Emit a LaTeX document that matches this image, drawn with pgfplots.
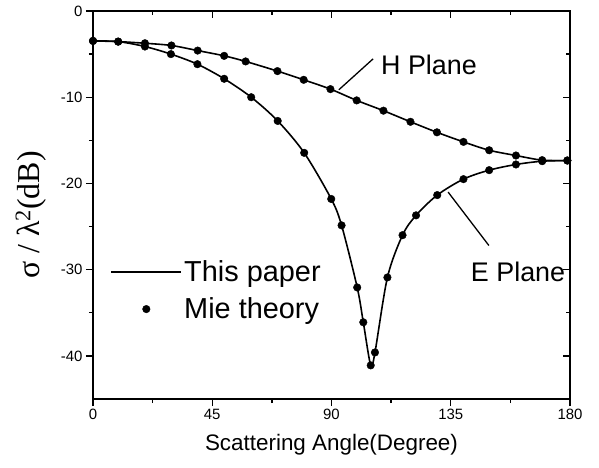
\documentclass[border=0pt]{standalone}
\usepackage{pgfplots}
\pgfplotsset{compat=1.18}
\usepackage{fontspec}
\setmainfont{Liberation Sans}
\newfontfamily\seriffont{Liberation Serif}
\pgfplotstableread{
x y
0 -3.47
9.5 -3.55
19.6 -4.12
29.4 -5.0
39.4 -6.17
49.5 -7.86
59.7 -10.0
69.7 -12.75
79.7 -16.45
89.9 -21.8
93.8 -24.86
99.7 -32.06
102.0 -36.1
104.8 -41.1
106.4 -39.6
111.1 -30.9
116.8 -26.0
121.9 -23.7
129.9 -21.35
139.8 -19.5
149.5 -18.46
159.6 -17.8
169.5 -17.42
179 -17.34
}\Eplane
\pgfplotstableread{
x y
0 -3.47
9.5 -3.55
19.6 -3.74
29.6 -4.0
39.5 -4.59
49.5 -5.2
57.6 -5.85
69.6 -6.97
79.5 -7.98
89.6 -9.06
99.5 -10.37
109.6 -11.56
119.8 -12.85
129.8 -14.07
139.8 -15.18
149.5 -16.15
159.6 -16.76
169.5 -17.3
179 -17.34
}\Hplane
\begin{document}
\begin{tikzpicture}
\begin{axis}[name=ax, scale only axis, width=477bp, height=388bp,
  xmin=0, xmax=180, ymin=-45, ymax=0,
  xtick={0,45,90,135,180}, ytick={-40,-30,-20,-10,0},
  minor x tick num=1, minor y tick num=1,
  xtick pos=left, ytick pos=left, tick align=outside,
  major tick length=7bp, minor tick length=4bp,
  axis line style={line width=1.8bp},
  every tick/.style={black, line width=1.3bp},
  tick label style={font=\fontsize{15}{15}\selectfont},
  /pgf/number format/assume math mode=true,
  xlabel={Scattering Angle(Degree)},
  xlabel style={font=\fontsize{22.5}{22.5}\selectfont, at={(axis description cs:0.5,-0.118)}, anchor=center},
  ylabel={\seriffont σ / λ\textsuperscript{2}(dB)},
  ylabel style={font=\fontsize{32}{32}\selectfont, at={(axis description cs:-0.1300,0.474)}, anchor=center},
  clip=false,
  legend style={draw=none, fill=none, at={(axis cs:6.5,-32.4)}, anchor=west,
    font=\fontsize{29}{29}\selectfont, row sep=11bp, inner sep=0pt,
    nodes={inner sep=2bp}},
  legend cell align=left,
]
\addplot[black, line width=1.6bp, smooth, forget plot] table {\Eplane};
\addplot[black, line width=1.6bp, smooth, forget plot] table {\Hplane};
\addplot[black, only marks, mark=*, mark size=3.8bp, forget plot] table {\Eplane};
\addplot[black, only marks, mark=*, mark size=3.8bp, forget plot] table {\Hplane};
\draw[line width=1.3bp] (axis cs:105.7,-5.55) -- (axis cs:92.8,-9.13);
\draw[line width=1.3bp] (axis cs:134.0,-21.0) -- (axis cs:149.4,-27.2);
\node[font=\fontsize{27}{27}\selectfont] at (axis cs:126.8,-6.24) {H Plane};
\node[font=\fontsize{27}{27}\selectfont] at (axis cs:160.4,-30.2) {E Plane};
\addlegendimage{legend image code/.code={\draw[black, line width=1.8bp] (0bp,0bp) -- (70bp,0bp);}}
\addlegendentry{This paper}
\addlegendimage{legend image code/.code={\draw[black, only marks, mark=*, mark size=3.8bp] plot coordinates {(35bp,0bp)};}}
\addlegendentry{Mie theory}
\end{axis}
\begin{axis}[scale only axis, width=477bp, height=388bp,
  xmin=0, xmax=180, ymin=-45, ymax=0,
  xtick={0,45,90,135,180}, ytick={-40,-30,-20,-10,0},
  minor x tick num=1, minor y tick num=1,
  xtick pos=right, ytick pos=right, tick align=inside,
  major tick length=7bp, minor tick length=4bp,
  xticklabels={}, yticklabels={},
  axis line style={line width=1.8bp},
  every tick/.style={black, line width=1.3bp},
]
\end{axis}
\pgfresetboundingbox
\path ([xshift=-93bp,yshift=-69bp]ax.south west) rectangle ([xshift=29bp,yshift=11bp]ax.north east);
\end{tikzpicture}
\end{document}
